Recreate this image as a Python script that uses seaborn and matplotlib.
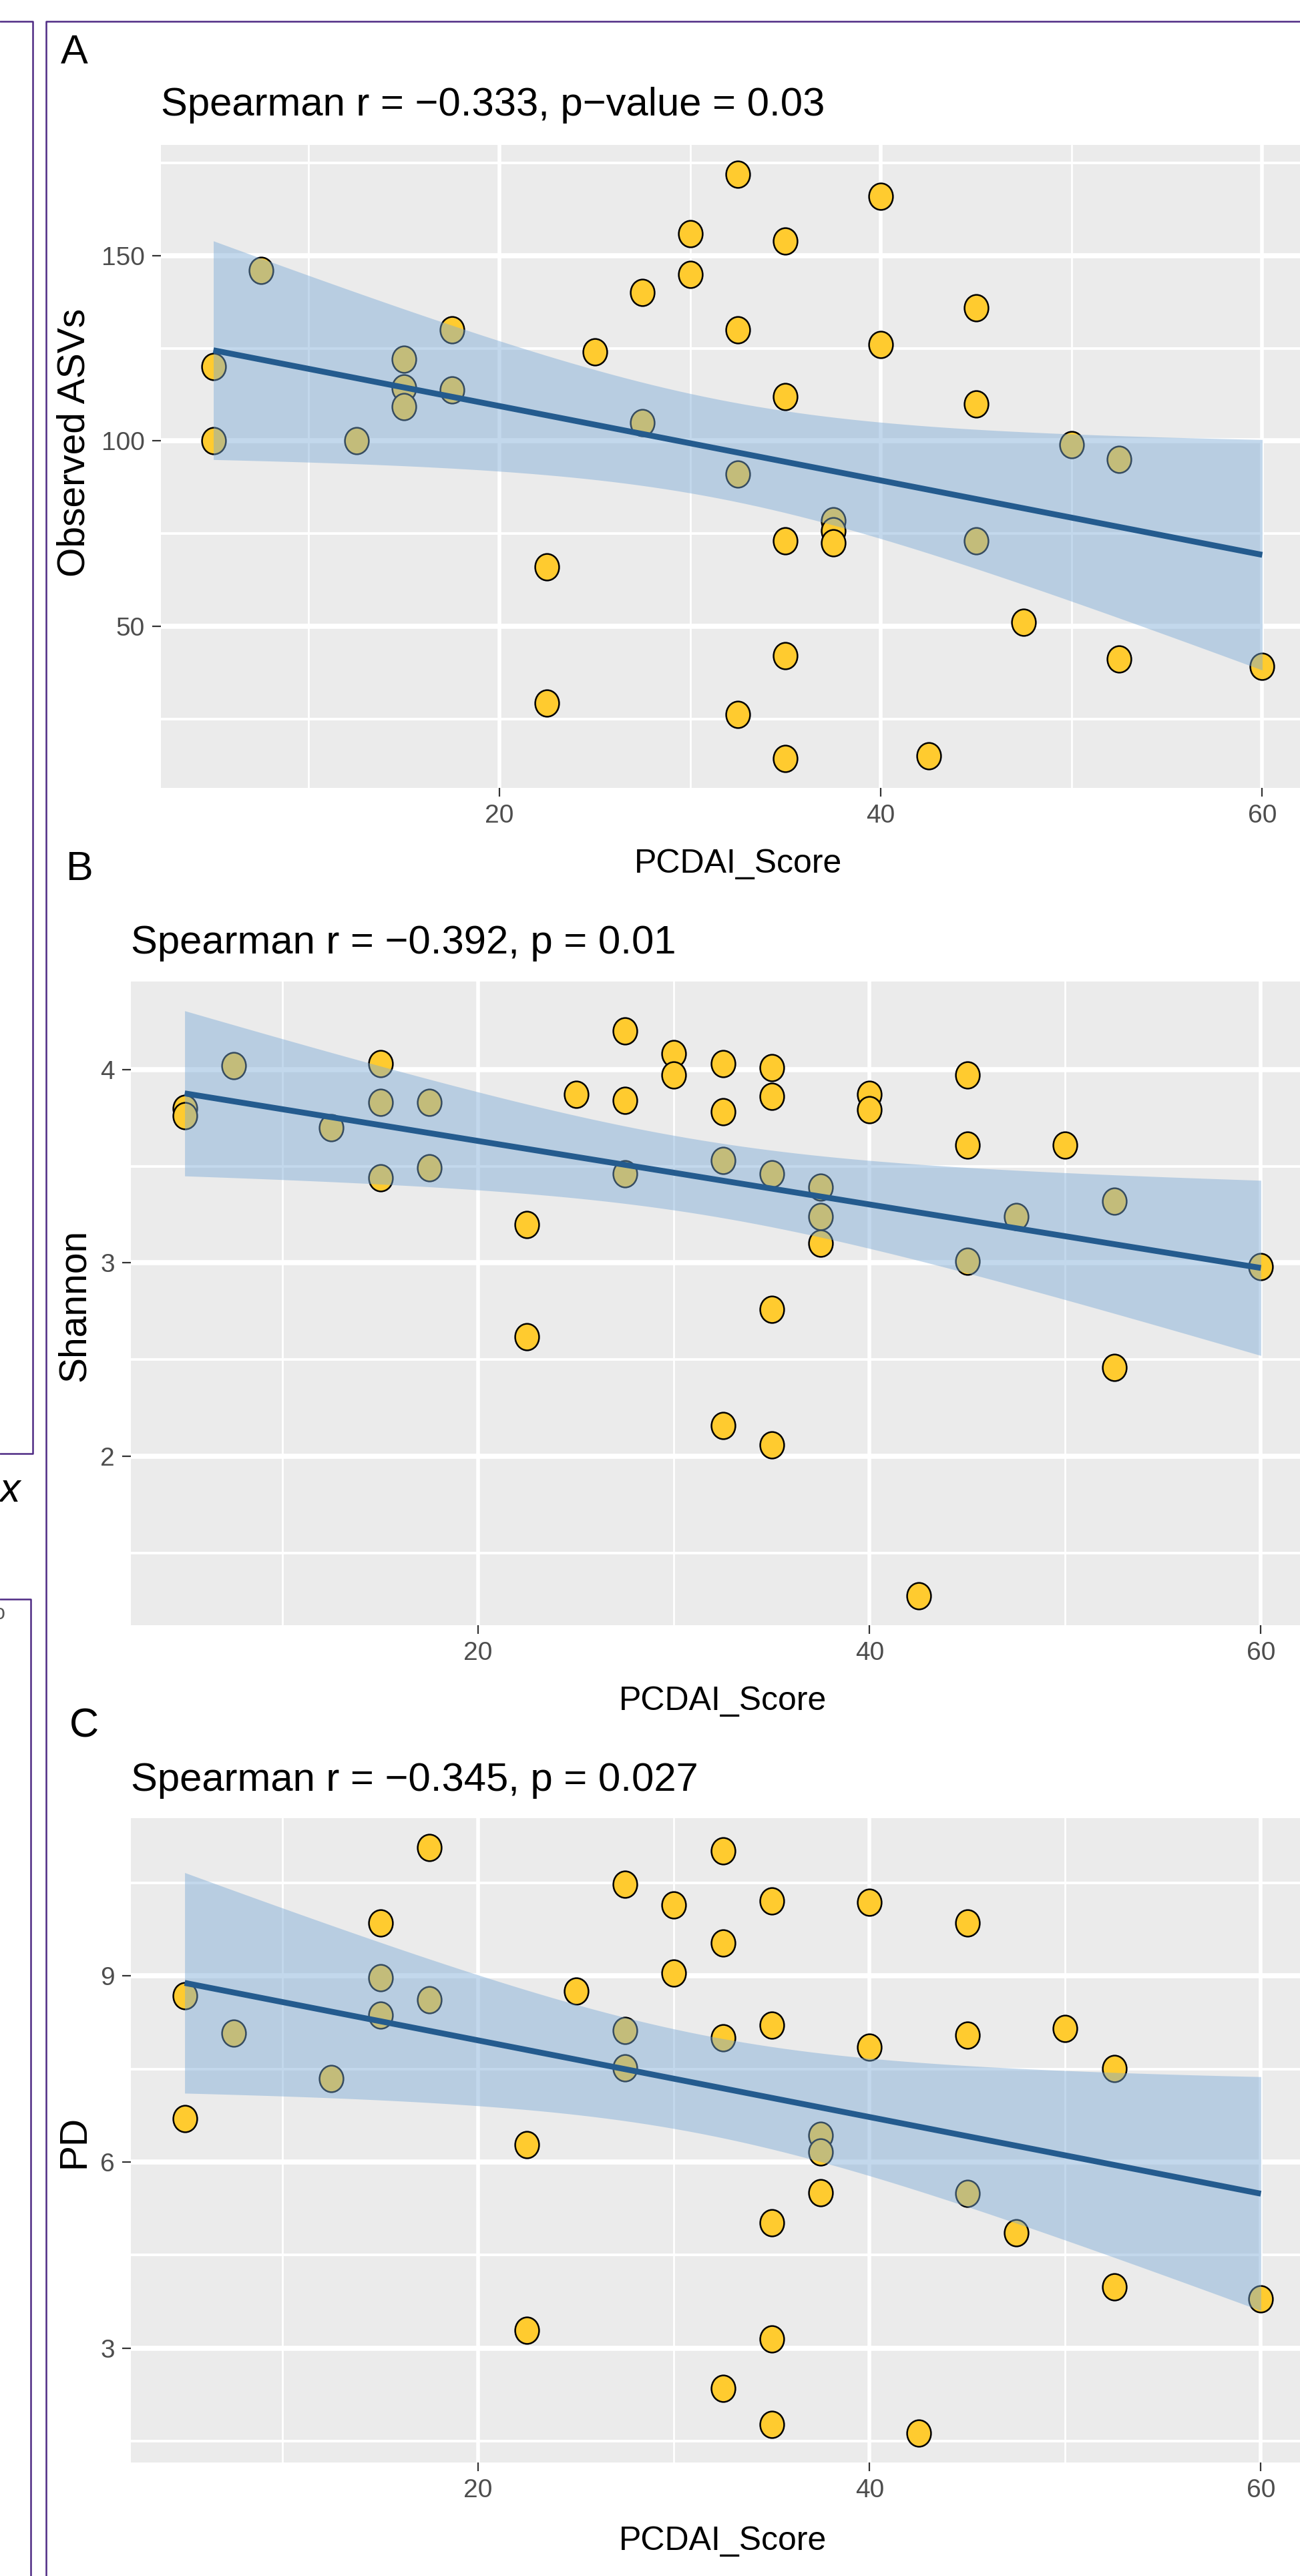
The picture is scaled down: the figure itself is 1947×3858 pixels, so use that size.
"""
PCDAI score vs. alpha diversity - three stacked panels (A/B/C)
"""

import numpy as np
import matplotlib
matplotlib.use("Agg")
import matplotlib.pyplot as plt
import seaborn as sns
from matplotlib.lines import Line2D
from matplotlib.path import Path
from matplotlib.transforms import Affine2D
from matplotlib.ticker import MultipleLocator

# ── Data ──────────────────────────────────────────────────────────────────
pcdai_a = [5, 5, 7.5, 12.5, 15, 15, 15, 17.5, 17.5, 22.5, 22.5, 25, 27.5, 27.5,
           30, 30, 32.5, 32.5, 32.5, 32.5, 35, 35, 35, 35, 35, 37.5, 37.5, 37.5,
           40, 40, 42.5, 45, 45, 45, 47.5, 50, 52.5, 52.5, 60]
observed_asvs = [120, 100, 146, 100, 122, 114.4, 109.3, 130, 113.7, 66, 29.3, 124, 140, 105,
                 156, 145, 172, 130, 91, 26.3, 154, 112, 73, 42, 14.3, 78.5, 75.8, 72.6,
                 166, 126, 15, 136, 110, 73, 51, 99, 95, 41.2, 39.2]

pcdai_bc = [5, 5, 7.5, 12.5, 15, 15, 15, 17.5, 17.5, 22.5, 22.5, 25, 27.5, 27.5, 27.5,
            30, 30, 32.5, 32.5, 32.5, 32.5, 35, 35, 35, 35, 35, 37.5, 37.5, 37.5,
            40, 40, 42.5, 45, 45, 45, 47.5, 50, 52.5, 52.5, 60]
shannon = [3.80, 3.76, 4.02, 3.70, 4.03, 3.83, 3.44, 3.83, 3.49, 3.20, 2.62, 3.87, 4.20, 3.84, 3.46,
           4.08, 3.97, 4.03, 3.78, 3.53, 2.16, 4.01, 3.86, 3.46, 2.76, 2.06, 3.39, 3.24, 3.10,
           3.87, 3.79, 1.28, 3.97, 3.61, 3.01, 3.24, 3.61, 3.32, 2.46, 2.98]
faith_pd = [8.68, 6.70, 8.08, 7.34, 9.85, 8.97, 8.37, 11.07, 8.61, 6.28, 3.29, 8.75, 10.48, 8.12, 7.52,
            10.14, 9.05, 11.02, 9.53, 8.00, 2.35, 10.21, 8.21, 5.02, 3.15, 1.77, 6.43, 6.16, 5.50,
            10.19, 7.85, 1.63, 9.85, 8.05, 5.49, 4.86, 8.15, 7.51, 3.99, 3.79]

panel_tags = ["A", "B", "C"]
titles = [
    "Spearman r = \u22120.333, p\u2212value = 0.03",
    "Spearman r = \u22120.392, p = 0.01",
    "Spearman r = \u22120.345, p = 0.027",
]
y_titles = ["Observed ASVs", "Shannon", "PD"]
x_title = "PCDAI_Score"
y_major = [50, 1, 3]
y_minor = [25, 0.5, 1.5]
x_major, x_minor = 20, 10

# ── Layout (pixels of the 1947 x 3858 canvas) ─────────────────────────────
W, H = 1947, 3858
RIGHT = 1969   # panels run past the right edge, as in the cropped original
LAYOUT = [
    dict(left=241, top=217, bottom=1180, title_y=173, tag_x=91, tag_y=95, ylab_y=663, xlab_y=1307),
    dict(left=196, top=1470, bottom=2434, title_y=1428, tag_x=99, tag_y=1318, ylab_y=1955, xlab_y=2561),
    dict(left=196, top=2723, bottom=3688, title_y=2682, tag_x=104, tag_y=2602, ylab_y=3207, xlab_y=3819),
]

YELLOW = "#FFCB2F"
LINE = "#245B8E"
RIBBON = "#7AAAD7"
PURPLE = "#4E2A84"
FONT = ["Liberation Sans", "DejaVu Sans"]

# font sizes (pt) – the original text is a horizontally squeezed Arial,
# sizes here keep the widths close to the reference
SZ_TITLE, SZ_TAG, SZ_XLAB, SZ_YLAB, SZ_TICK = 43, 44, 36, 41, 28

sns.set_style("darkgrid", {"axes.facecolor": "#EBEBEB", "grid.color": "white"})
plt.rcParams["font.family"] = FONT

# slightly tall ellipse, like the stretched points of the original
ELLIPSE = Path.unit_circle().transformed(Affine2D().scale(0.9, 1.0))


def lm_band(x, y, t=2.025):
    """Linear fit with a 95% confidence band (same as geom_smooth(method='lm'))."""
    x = np.asarray(x, float)
    y = np.asarray(y, float)
    n = len(x)
    b1, b0 = np.polyfit(x, y, 1)
    resid = y - (b0 + b1 * x)
    s = np.sqrt(resid @ resid / (n - 2))
    grid = np.linspace(x.min(), x.max(), 80)
    fit = b0 + b1 * grid
    se = s * np.sqrt(1 / n + (grid - x.mean()) ** 2 / ((x - x.mean()) ** 2).sum())
    return grid, fit - t * se, fit + t * se


def fx(px):
    return px / W


def fy(py):
    return 1 - py / H


fig = plt.figure(figsize=(W / 100, H / 100), dpi=100)

datasets = [(pcdai_a, observed_asvs), (pcdai_bc, shannon), (pcdai_bc, faith_pd)]

for i, (xs, ys) in enumerate(datasets):
    L = LAYOUT[i]
    ax = fig.add_axes([fx(L["left"]), fy(L["bottom"]),
                       (RIGHT - L["left"]) / W, (L["bottom"] - L["top"]) / H])

    sns.scatterplot(x=xs, y=ys, ax=ax, marker=ELLIPSE, s=820, color=YELLOW,
                    edgecolor="black", linewidth=1.8, zorder=2)
    grid, lo, hi = lm_band(xs, ys)
    ax.fill_between(grid, lo, hi, color=RIBBON, alpha=0.45, lw=0, zorder=3)
    sns.regplot(x=xs, y=ys, ax=ax, scatter=False, ci=None, truncate=True,
                color=LINE, line_kws=dict(lw=6.3, zorder=4, solid_capstyle="butt"))

    # ggplot-like 5% expansion, ribbon included
    xmin, xmax = min(xs), max(xs)
    ymin, ymax = min(min(ys), lo.min()), max(max(ys), hi.max())
    ax.set_xlim(xmin - 0.05 * (xmax - xmin), xmax + 0.05 * (xmax - xmin))
    ax.set_ylim(ymin - 0.05 * (ymax - ymin), ymax + 0.05 * (ymax - ymin))

    ax.xaxis.set_major_locator(MultipleLocator(x_major))
    ax.xaxis.set_minor_locator(MultipleLocator(x_minor))
    ax.yaxis.set_major_locator(MultipleLocator(y_major[i]))
    ax.yaxis.set_minor_locator(MultipleLocator(y_minor[i]))

    ax.set_axisbelow(True)
    ax.grid(which="major", axis="x", color="white", lw=4.0)
    ax.grid(which="major", axis="y", color="white", lw=5.5)
    ax.grid(which="minor", axis="x", color="white", lw=2.0)
    ax.grid(which="minor", axis="y", color="white", lw=2.8)
    for sp in ax.spines.values():
        sp.set_visible(False)

    ax.tick_params(which="major", bottom=True, left=True, length=9.5, width=1.6,
                   color="#333333", pad=8, labelsize=SZ_TICK, labelcolor="#4D4D4D")
    ax.tick_params(which="minor", length=0)

    ax.set_xlabel(x_title, fontsize=SZ_XLAB, color="black")
    ax.xaxis.set_label_coords(fx((L["left"] + RIGHT) / 2), fy(L["xlab_y"]),
                              transform=fig.transFigure)
    ax.xaxis.label.set_va("baseline")

    ax.set_ylabel(y_titles[i], fontsize=SZ_YLAB, color="black")
    ax.yaxis.set_label_coords(fx(111.5), fy(L["ylab_y"]), transform=fig.transFigure)
    ax.yaxis.label.set_va("center")

    fig.text(fx(L["left"]), fy(L["title_y"]), titles[i], fontsize=SZ_TITLE,
             ha="left", va="baseline", color="black")
    fig.text(fx(L["tag_x"]), fy(L["tag_y"]), panel_tags[i], fontsize=SZ_TAG,
             ha="left", va="baseline", color="black")

# ── Frame lines and cut-off text of the surrounding composite figure ──────
def frame(xs_px, ys_px):
    fig.add_artist(Line2D([fx(v) for v in xs_px], [fy(v) for v in ys_px],
                          transform=fig.transFigure, color=PURPLE, lw=1.8))


frame([0, 49, 49, 0], [32, 32, 2177, 2177])     # neighbouring panel (left)
frame([0, 45.5, 45.5], [2395, 2395, H])         # next neighbouring panel
frame([W, 69, 69], [32, 32, H])                 # this panel's frame
fig.text(fx(-33), fy(2250), "ex", fontsize=44, style="italic",
         ha="left", va="baseline", color="black")
fig.text(fx(-9), fy(2425), "o", fontsize=22,
         ha="left", va="baseline", color="#555555")

fig.savefig("out.png", dpi=100)
plt.close(fig)
